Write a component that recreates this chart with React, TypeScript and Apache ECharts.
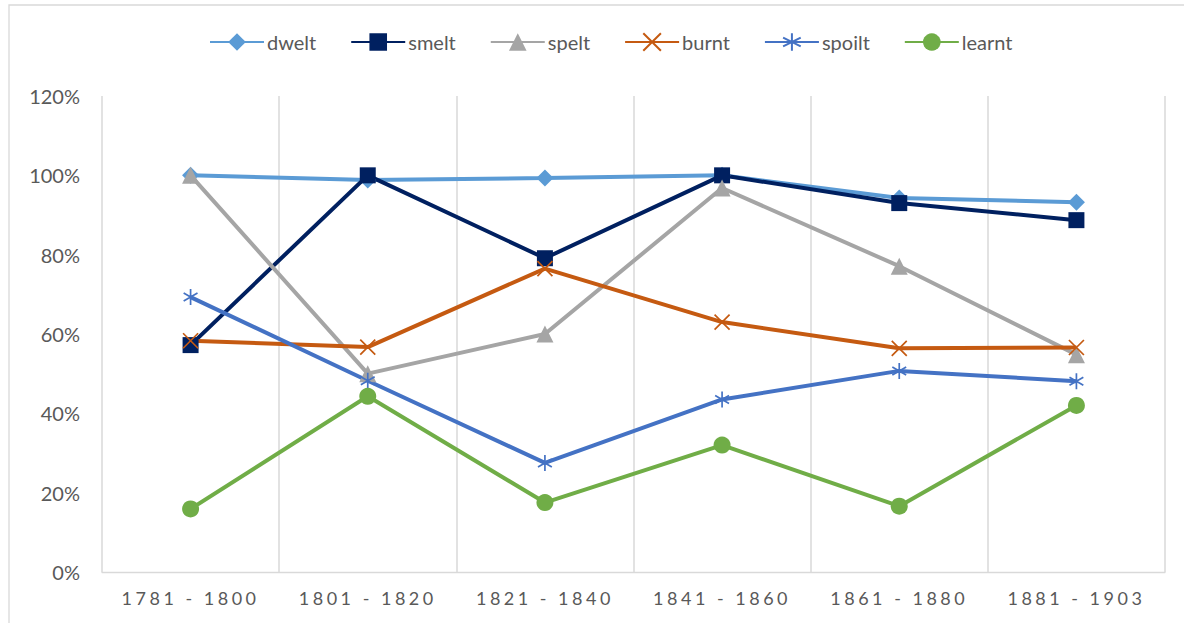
import React, { useEffect, useRef } from "react";
import * as echarts from "echarts";

const categories = ["1781 - 1800", "1801 - 1820", "1821 - 1840", "1841 - 1860", "1861 - 1880", "1881 - 1903"];
const dwelt = [1.0, 0.988, 0.993, 1.0, 0.943, 0.932];
const smelt = [0.572, 1.0, 0.791, 1.0, 0.93, 0.887];
const spelt = [1.0, 0.5, 0.6, 0.968, 0.771, 0.548];
const burnt = [0.583, 0.567, 0.765, 0.63, 0.564, 0.566];
const spoilt = [0.693, 0.482, 0.275, 0.435, 0.507, 0.481];
const learnt = [0.159, 0.443, 0.175, 0.32, 0.166, 0.42];
const yTicks = [0, 0.2, 0.4, 0.6, 0.8, 1.0, 1.2];

const X_PATH = "path://M0,0L10,10M10,0L0,10";
const STAR_PATH = "path://M5,0L5,10M0.67,2.5L9.33,7.5M9.33,2.5L0.67,7.5";

const FONT = "Lato, 'Noto Sans', sans-serif";

export default function App() {
  const ref = useRef<HTMLDivElement>(null);
  useEffect(() => {
    if (!ref.current) return;
    const chart = echarts.init(ref.current, null, { renderer: "svg" });
    const mk = (name: string, data: number[], color: string, symbol: string, size: number, stroked = false) => ({
      name,
      type: "line",
      data,
      symbol,
      symbolSize: size,
      symbolKeepAspect: true,
      lineStyle: { color, width: 4 },
      itemStyle: stroked
        ? { color: "rgba(0,0,0,0)", borderColor: color, borderWidth: 1.7 }
        : { color, borderWidth: 0 },
      emphasis: { disabled: true },
    });
    chart.setOption({
      animation: false,
      backgroundColor: "#ffffff",
      textStyle: { fontFamily: FONT },
      graphic: [
        {
          type: "rect",
          shape: { x: 9, y: 5, width: 1300, height: 700 },
          style: { fill: "none", stroke: "#d9d9d9", lineWidth: 1.3 },
          silent: true,
          z: -10,
        },
      ],
      legend: {
        top: 27,
        left: 204,
        itemWidth: 54,
        itemHeight: 22,
        itemGap: 34,
        textStyle: { color: "#595959", fontSize: 20, fontFamily: FONT, padding: [0, 0, 0, -2] },
        data: ["dwelt", "smelt", "spelt", "burnt", "spoilt", "learnt"],
      },
      grid: { left: 102, right: 19, top: 96, bottom: 51, containLabel: false },
      xAxis: {
        type: "category",
        data: categories,
        boundaryGap: true,
        axisLine: { show: true, lineStyle: { color: "#d9d9d9", width: 1.3 } },
        axisTick: { show: false },
        splitLine: { show: true, lineStyle: { color: "#d9d9d9", width: 1.5 } },
        axisLabel: { color: "#595959", fontSize: 18, margin: 17, fontFamily: FONT },
      },
      yAxis: {
        type: "value",
        min: yTicks[0],
        max: yTicks[yTicks.length - 1],
        interval: 0.2,
        axisLine: { show: false },
        axisTick: { show: false },
        splitLine: { show: false },
        axisLabel: {
          color: "#595959",
          fontSize: 20,
          margin: 22,
          fontFamily: FONT,
          formatter: (v: number) => Math.round(v * 100) + "%",
        },
      },
      series: [
        mk("dwelt", dwelt, "#5B9BD5", "diamond", 17),
        mk("smelt", smelt, "#002060", "rect", 16),
        mk("spelt", spelt, "#A5A5A5", "triangle", 17),
        mk("burnt", burnt, "#C55A11", X_PATH, 15, true),
        mk("spoilt", spoilt, "#4472C4", STAR_PATH, 16, true),
        mk("learnt", learnt, "#70AD47", "circle", 17),
      ],
    });
    const texts = ref.current.querySelectorAll("text");
    texts.forEach((t) => {
      if (/^\d{4} - \d{4}$/.test((t.textContent || "").trim())) {
        (t as SVGTextElement).style.letterSpacing = "3.5px";
      }
    });
    return () => chart.dispose();
  }, []);
  return (
    <div
      ref={ref}
      style={{ position: "absolute", left: 0, top: 0, width: 1184, height: 623 }}
    />
  );
}
